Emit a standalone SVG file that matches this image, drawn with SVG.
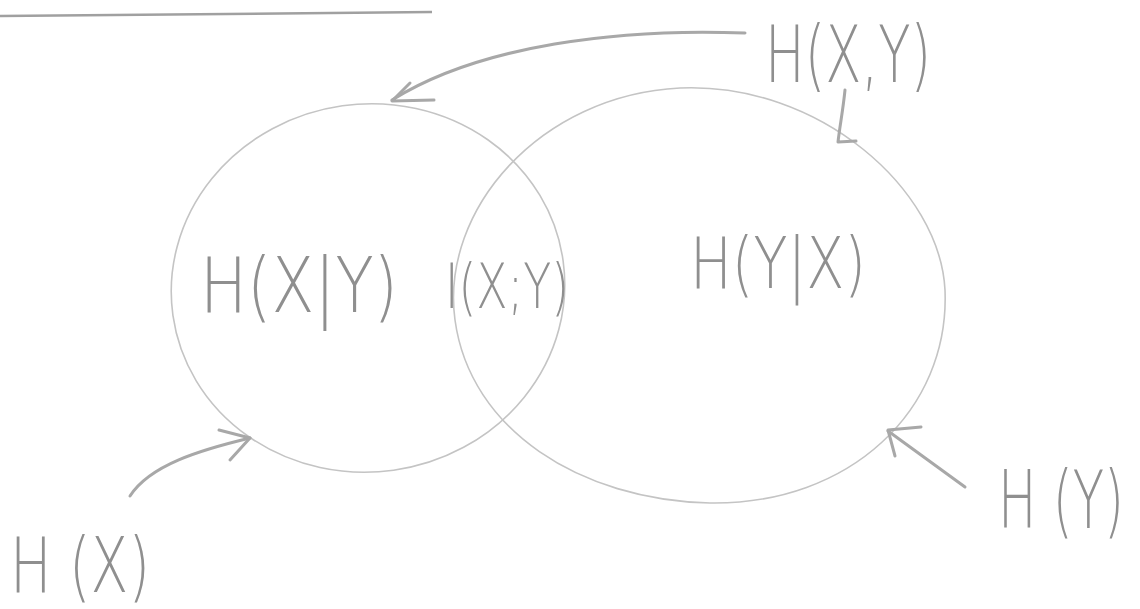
<svg xmlns="http://www.w3.org/2000/svg" width="1140" height="609" viewBox="0 0 1140 609">
<style>
.set{fill:none;stroke:#c4c4c4;stroke-width:1.6}
.lbl{font-family:"DejaVu Sans","Liberation Sans",sans-serif;font-weight:200;fill:#8f8f8f}
.con{fill:none;stroke:#a8a8a8;stroke-width:3;stroke-linecap:round;stroke-linejoin:round}
</style>
<rect width="1140" height="609" fill="#ffffff"/>
<path d="M0 16 L432 12" stroke="#a0a0a0" stroke-width="2.5" fill="none"/>
<g id="setX">
<ellipse class="set" cx="368" cy="288" rx="197" ry="184" transform="rotate(-8 368 288)"/>
</g>
<g id="setY">
<path class="set" d="M455 320 C440 210 540 95 680 88 C820 82 940 190 945 290 C950 410 850 505 710 503 C580 500 470 430 455 320 Z"/>
</g>
<g id="HXgivenY"><text class="lbl" x="200" y="312" font-size="76" textLength="198" lengthAdjust="spacingAndGlyphs">H(X|Y)</text></g>
<g id="IXY"><text class="lbl" x="445" y="308" font-size="62" textLength="124" lengthAdjust="spacingAndGlyphs">I(X;Y)</text></g>
<g id="HYgivenX"><text class="lbl" x="690" y="288" font-size="72" textLength="176" lengthAdjust="spacingAndGlyphs">H(Y|X)</text></g>
<g id="HXY"><text class="lbl" x="765" y="82" font-size="78" textLength="166" lengthAdjust="spacingAndGlyphs">H(X,Y)</text></g>
<g id="HY"><text class="lbl" transform="translate(998 528) scale(0.64 1)" x="0" y="0" font-size="80">H (Y)</text></g>
<g id="HX"><text class="lbl" x="10" y="592" font-size="76" textLength="140" lengthAdjust="spacingAndGlyphs">H (X)</text></g>
<g id="connectors">
<path class="con" d="M745 33 C620 28 480 45 392 100"/>
<path class="con" d="M410 83 L392 101 L434 100"/>
<path class="con" d="M845 90 C843 110 840 125 838 142 L856 141"/>
<path class="con" d="M130 496 C150 465 200 450 250 438"/>
<path class="con" d="M219 430 L250 438 L230 460"/>
<path class="con" d="M965 487 L888 431"/>
<path class="con" d="M921 427 L888 430 L895 456"/>
</g>
</svg>
